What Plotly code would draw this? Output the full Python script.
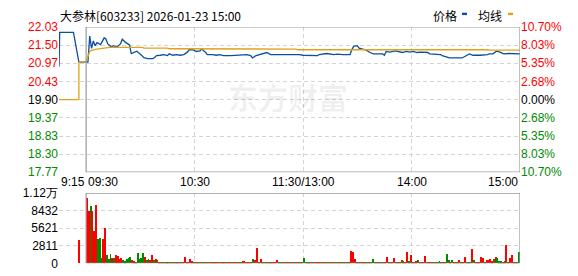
import plotly.graph_objects as go

W, H = 578, 276

# ---------------- data ----------------
title_text = "大参林[603233] 2026-01-23 15:00"
prev_close = 19.90
price_ticks = [17.77, 18.30, 18.83, 19.37, 19.90, 20.43, 20.97, 21.50, 22.03]
price_tick_labels = ["17.77", "18.30", "18.83", "19.37", "19.90", "20.43", "20.97", "21.50", "22.03"]
pct_tick_labels = ["10.70%", "8.03%", "5.35%", "2.68%", "0.00%", "2.68%", "5.35%", "8.03%", "10.70%"]
vol_ticks = [0, 2811, 5621, 8432, 11243]
vol_tick_labels = ["0", "2811", "5621", "8432", "1.12万"]
time_tick_minutes = [-15, 0, 60, 120, 180, 240]
time_tick_labels = ["9:15", "09:30", "10:30", "11:30/13:00", "14:00", "15:00"]

# minutes from 09:30 (call auction 09:15-09:30 at negative minutes, 13:00 = 120)
price_min = [-15, -14.6, -7, -4, 0, 1, 2, 3, 4, 5, 6, 7, 8, 10, 11, 12, 14, 15, 17, 19, 20, 22, 24, 25,
             28, 30, 32, 34, 37, 38, 39, 41, 43, 45, 46, 48, 50, 52, 54, 56, 57, 59, 61, 63, 64, 66,
             67, 70, 72, 74, 76, 80, 84, 85, 89, 91, 92, 94, 96, 98, 100, 102, 106, 109, 113, 115,
             117, 118, 120, 124, 128, 129, 133, 137, 139, 142, 146, 147, 148, 150, 151, 153, 155,
             157, 159, 164, 165, 166, 168, 171, 174, 175, 177, 179, 181, 183, 185, 189, 190, 194,
             196, 197, 200, 201, 208, 211, 212, 214, 216, 218, 222, 223, 225, 227, 229, 231, 234,
             238, 240]
price_val = [20.87, 21.87, 21.87, 21.00, 21.00, 21.00, 21.76, 21.40, 21.62, 21.48, 21.57, 21.53, 21.51,
             21.71, 21.67, 21.53, 21.44, 21.48, 21.44, 21.53, 21.67, 21.57, 21.50, 21.25,
             21.32, 21.23, 21.13, 21.10, 21.10, 21.14, 21.19, 21.20, 21.22, 21.19, 21.24, 21.20,
             21.22, 21.20, 21.22, 21.29, 21.36, 21.36, 21.31, 21.33, 21.38, 21.29,
             21.22, 21.22, 21.20, 21.22, 21.19, 21.19, 21.20, 21.19, 21.22, 21.19, 21.12, 21.19,
             21.22, 21.25, 21.28, 21.22, 21.22, 21.23, 21.23, 21.22,
             21.23, 21.22, 21.20, 21.19, 21.19, 21.22, 21.25, 21.22, 21.23, 21.22, 21.22, 21.37,
             21.46, 21.48, 21.41, 21.38, 21.35,
             21.28, 21.24, 21.24, 21.20, 21.31, 21.29, 21.33, 21.29, 21.28, 21.31, 21.29, 21.31,
             21.28, 21.29, 21.28, 21.24, 21.24,
             21.22, 21.19, 21.14, 21.12, 21.12, 21.20, 21.24, 21.20, 21.19, 21.20, 21.22, 21.24,
             21.24, 21.32, 21.29, 21.24, 21.25,
             21.24, 21.24]

avg_min = [-15, -4, -4, 0, 1, 2, 5, 8, 13, 31, 32, 45, 46, 116, 117, 222, 223, 240]
avg_val = [19.90, 19.90, 21.00, 21.00, 21.16, 21.32, 21.37, 21.40, 21.43, 21.43, 21.41, 21.41,
           21.39, 21.38, 21.36, 21.36, 21.35, 21.35]

auction_vol_min = [-4]
auction_vol = [3800]
auction_dir = "r"

# one value per minute, 09:31 ... 15:00
vol = [
    10500, 8300, 9100, 8300, 5100, 9400, 3850, 4000, 920, 3850,
    5700, 1390, 620, 1540, 770, 920, 1370, 1220, 610, 920,
    460, 300, 610, 920, 1070, 460, 300, 200, 1670, 760,
    920, 1670, 1070, 460, 610, 460, 1370, 460, 760, 460,
    150, 200, 120, 180, 150, 100, 200, 150, 120, 180,
    150, 120, 200, 150, 1060, 200, 150, 610, 300, 150,
    150, 120, 180, 150, 200, 150, 120, 150, 180, 150,
    150, 150, 120, 200, 150, 180, 120, 150, 150, 120,
    150, 180, 150, 120, 200, 150, 300, 300, 150, 120,
    150, 180, 760, 460, 2430, 150, 610, 150, 120, 150,
    120, 150, 180, 150, 120, 460, 150, 150, 120, 150,
    150, 180, 120, 150, 150, 120, 150, 150, 120, 180,
    920, 150, 150, 120, 150, 180, 150, 120, 150, 150,
    120, 150, 150, 180, 120, 150, 150, 120, 150, 180,
    150, 120, 150, 150, 120, 200, 1980, 1830, 760, 150,
    150, 120, 150, 150, 180, 120, 150, 150, 760, 150,
    120, 150, 180, 150, 120, 150, 1070, 150, 120, 150,
    920, 150, 120, 150, 460, 300, 150, 1830, 300, 1370,
    150, 120, 300, 460, 150, 150, 120, 1220, 150, 120,
    150, 120, 150, 150, 120, 300, 150, 150, 120, 1520,
    460, 150, 460, 120, 150, 150, 460, 150, 120, 1070,
    150, 120, 150, 2280, 460, 150, 120, 150, 1070, 920,
    150, 460, 460, 610, 300, 610, 1070, 920, 300, 300,
    150, 300, 2890, 150, 920, 1370, 150, 150, 120, 1830,
]
vol_dir = (
    "rrgrrrgggr" "rgggrgrrrr" "gggggrrggg" "ggrggrrgrg"
    "rgrggrgrgr" "grgrrgrrrg" "grgrgrgrgr" "grrgrgrgrr"
    "grrgrgrrgr" "rggrrgrrgr" "grgrrrgrgr" "grrgrgrgrg"
    "ggrgrgrgrr" "grgrgrrgrg" "rgrggrrrrg" "rgrgrgrggr"
    "grgrgrrgrg" "rgrgrgrrgr" "grrgrgrrgr" "grgrggrgrg"
    "grgrgrrgrr" "grgrgrgrrr" "grrrrgrggg" "rgrgrrrggg"
)

# ---------------- styling helpers ----------------
RED, GREEN, BLACK = "#ff0000", "#008a00", "#000000"
BLUE, ORANGE = "#0a4fa0", "#e0a21a"
GRID, BORDER = "#d4d4d4", "#9a9a9a"
FONT = "Liberation Sans, Arial, sans-serif"
CJK = "Noto Sans CJK SC, sans-serif"


def px_x(x):
    return x / W


def px_y(y):
    return 1 - y / H


def col_for_price(p):
    if p > prev_close + 1e-9:
        return RED
    if p < prev_close - 1e-9:
        return GREEN
    return BLACK


price_cols = [col_for_price(p) for p in price_ticks]
left_text = [f'<span style="color:{c}">{t}</span>' for c, t in zip(price_cols, price_tick_labels)]
right_text = [f'<span style="color:{c}">{t}</span>' for c, t in zip(price_cols, pct_tick_labels)]

x_dom = [px_x(59), px_x(520)]
main_dom = [px_y(174), px_y(21)]
vol_dom = [px_y(270), px_y(196)]
x_range = [time_tick_minutes[0], time_tick_minutes[-1]]

fig = go.Figure()

fig.add_trace(go.Scatter(x=price_min, y=price_val, mode="lines",
                         line=dict(color=BLUE, width=1.3), xaxis="x", yaxis="y",
                         hoverinfo="skip"))
fig.add_trace(go.Scatter(x=avg_min, y=avg_val, mode="lines",
                         line=dict(color=ORANGE, width=1.3), xaxis="x", yaxis="y",
                         hoverinfo="skip"))

bar_x = [m - 0.5 for m in range(1, len(vol) + 1)] + auction_vol_min
bar_y = vol + auction_vol
bar_c = [RED if d == "r" else GREEN for d in vol_dir + auction_dir]
fig.add_trace(go.Bar(x=bar_x, y=bar_y, marker=dict(color=bar_c, line=dict(width=0)),
                     width=0.5, xaxis="x2", yaxis="y2", hoverinfo="skip"))

grid_common = dict(showgrid=True, gridcolor=GRID, griddash="4px,3px", gridwidth=1,
                   zeroline=False, showline=False, ticks="")

fig.update_layout(
    width=W, height=H, margin=dict(l=0, r=0, t=0, b=0),
    paper_bgcolor="white", plot_bgcolor="white", showlegend=False, bargap=0,
    xaxis=dict(domain=x_dom, range=x_range, anchor="y",
               tickvals=[-15, 60, 120, 180], showticklabels=False, **grid_common),
    yaxis=dict(domain=main_dom, range=[price_ticks[0], price_ticks[-1]], anchor="x",
               tickvals=price_ticks, ticktext=left_text,
               tickfont=dict(family=FONT, size=12), **grid_common),
    yaxis3=dict(overlaying="y", side="right", anchor="x",
                range=[price_ticks[0], price_ticks[-1]],
                tickvals=price_ticks, ticktext=right_text, showgrid=False,
                zeroline=False, showline=False, ticks="",
                tickfont=dict(family=FONT, size=12)),
    xaxis2=dict(domain=x_dom, range=x_range, anchor="y2",
                tickvals=[-15, 60, 120, 180], showticklabels=False, **grid_common),
    yaxis2=dict(domain=vol_dom, range=[vol_ticks[0], vol_ticks[-1]], anchor="x2",
                tickvals=vol_ticks, ticktext=vol_tick_labels,
                tickfont=dict(family=FONT, size=12, color="#000"), **grid_common),
)

# dummy trace to activate yaxis3
fig.add_trace(go.Scatter(x=[0], y=[prev_close], mode="markers", marker=dict(opacity=0),
                         xaxis="x", yaxis="y3", hoverinfo="skip"))

# panel borders (trading session box)
for yref, y0, y1 in [("y", price_ticks[0], price_ticks[-1]), ("y2", vol_ticks[0], vol_ticks[-1])]:
    fig.add_shape(type="rect", xref="x" if yref == "y" else "x2", yref=yref,
                  x0=0, x1=240, y0=y0, y1=y1, line=dict(color=BORDER, width=1.2),
                  fillcolor="rgba(0,0,0,0)", layer="above")

# time labels
anchors = ["left", "left", "center", "center", "center", "right"]
for m, t, a in zip(time_tick_minutes, time_tick_labels, anchors):
    fig.add_annotation(x=m, xref="x", y=px_y(184), yref="paper", text=t, showarrow=False,
                       xanchor=a, yanchor="middle", font=dict(family=FONT, size=12, color="#000"))

# title
fig.add_annotation(x=px_x(58), y=px_y(9), xref="paper", yref="paper", text=title_text,
                   showarrow=False, xanchor="left", yanchor="middle",
                   font=dict(family=CJK, size=12, color="#000"))

# legend
fig.add_annotation(x=px_x(431), y=px_y(9), xref="paper", yref="paper", text="价格",
                   showarrow=False, xanchor="left", yanchor="middle",
                   font=dict(family=CJK, size=12, color="#000"))
fig.add_annotation(x=px_x(476), y=px_y(9), xref="paper", yref="paper", text="均线",
                   showarrow=False, xanchor="left", yanchor="middle",
                   font=dict(family=CJK, size=12, color="#000"))
fig.add_shape(type="rect", xref="paper", yref="paper", x0=px_x(462), x1=px_x(467),
              y0=px_y(8.5), y1=px_y(6), fillcolor=BLUE, line=dict(width=0))
fig.add_shape(type="rect", xref="paper", yref="paper", x0=px_x(508), x1=px_x(513),
              y0=px_y(8.5), y1=px_y(6), fillcolor=ORANGE, line=dict(width=0))

# watermark
fig.add_annotation(x=px_x(288), y=px_y(94), xref="paper", yref="paper", text="<b>东方财富</b>",
                   showarrow=False, xanchor="center", yanchor="middle",
                   font=dict(family=CJK, size=30, color="rgba(0,0,0,0.06)"))

fig.write_html("out.html")
